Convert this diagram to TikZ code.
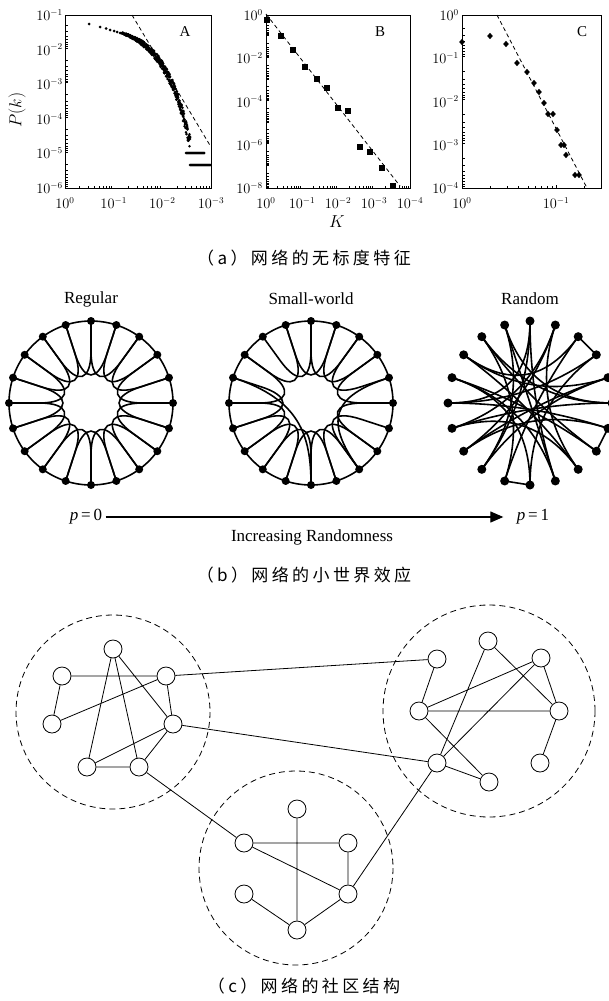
\documentclass[tikz,border=0pt]{standalone}
\usepackage{fontspec}
\setmainfont{Liberation Serif}
\newfontfamily\cjk[LetterSpace=20]{Noto Sans CJK SC}
\usetikzlibrary{arrows.meta}

\tikzset{
  frame/.style={line width=0.9pt},
  minortick/.style={line width=0.4pt},
  fitline/.style={line width=0.8pt, dash pattern=on 4pt off 3pt},
  ticklab/.style={font=\fontsize{13.5}{14}\selectfont, inner sep=1pt},
  axislab/.style={font=\fontsize{17}{18}\selectfont},
  panel/.style={font=\fontsize{15}{16}\selectfont},
  caption/.style={font=\cjk\fontsize{17}{20}\selectfont},
  title/.style={font=\fontsize{17}{20}\selectfont},
  dot/.style={circle, fill=black, inner sep=0pt, minimum size=8pt},
  ringline/.style={line width=1.6pt},
  cnode/.style={circle, draw, fill=white, line width=0.8pt, minimum size=18pt, inner sep=0pt},
  link/.style={line width=0.8pt},
  community/.style={line width=0.8pt, dash pattern=on 6pt off 4pt},
}

\begin{document}
\begin{tikzpicture}[x=1pt, y=-1pt]
\useasboundingbox (0,0) rectangle (608,1001);

% ---------- (a) degree distributions ----------
% panel A
\draw[frame] (65,15) rectangle (211,188);
\foreach \d in {0,1,2} \foreach \m in {2,...,9}
  \draw[minortick] ({65+48.67*(\d+log10(\m))},188) -- ++(0,-2.5);
\foreach \d in {0,...,4} \foreach \m in {2,...,9}
  \draw[minortick] (65,{15+34.6*(\d+log10(\m))}) -- ++(2.5,0);
\foreach \k in {1,...,6}
  \node[ticklab, anchor=east] (ay\k) at (64,{15+34.6*(\k-1)}) {$10^{-\k}$};
\foreach \k in {0,...,3}
  \node[ticklab] (ax\k) at ({65+48.67*\k},203) {$10^{\ifnum\k=0 0\else-\k\fi}$};
\node[axislab, rotate=90] (pk) at (17,110) {$P(k)$};
\node[panel] (labA) at (185,32) {$\mathrm{A}$};
\draw[fitline] (132,15) -- (211,147);
\foreach \x/\y in {89/24, 100/27, 106/28.5, 110/30, 114/31, 117/32, 120/33}
  \fill (\x,\y) circle (1.5);
\pgfmathsetseed{11}
\foreach \x in {122,122.5,...,190}{
  \pgfmathsetmacro\yc{24+2.56*exp(0.038*(\x-89))}
  \pgfmathsetmacro\sp{0.6+0.09*(\x-122)}
  \foreach \r in {1,2,3}{
    \pgfmathsetmacro\yy{\yc+\sp*rand}
    \fill (\x,\yy) circle (1.4);
  }
}
\foreach \x in {186,187,...,204} \fill (\x,153) circle (1.5);
\foreach \x in {190,191,...,210} \fill (\x,165) circle (1.5);

% panel B
\draw[frame] (266,15) rectangle (410,188);
\foreach \d in {0,...,3} \foreach \m in {2,...,9}
  \draw[minortick] ({266+36*(\d+log10(\m))},188) -- ++(0,-2.5);
\foreach \d in {0,...,7} \foreach \m in {2,...,9}
  \draw[minortick] (266,{15+21.6*(\d+log10(\m))}) -- ++(2.5,0);
\foreach \k [evaluate=\k as \e using int(2*\k)] in {0,...,4}
  \node[ticklab, anchor=east] (by\k) at (264,{15+43.25*\k}) {$10^{\ifnum\k=0 0\else-\e\fi}$};
\foreach \k in {0,...,4}
  \node[ticklab] (bx\k) at ({266+36*\k},203) {$10^{\ifnum\k=0 0\else-\k\fi}$};
\node[axislab] (kB) at (337,222) {$K$};
\node[panel] (labB) at (380,32) {$\mathrm{B}$};
\draw[fitline] (266,14) -- (400,186);
\foreach \x/\y in {267/20, 281/36, 293/50, 305/67, 317/79, 327/88, 338/108,
                   348/111, 360/147, 370/152, 382/168, 393/186}
  \fill (\x-3,\y-3) rectangle (\x+3,\y+3);

% panel C
\draw[frame] (462,15) rectangle (601,188);
\foreach \m in {2,...,9}
  \draw[minortick] ({462+94*log10(\m)},188) -- ++(0,-2.5);
\draw[minortick] (556,188) -- ++(0,-3.5) ({556+94*log10(2)},188) -- ++(0,-2.5);
\foreach \d in {0,...,3} \foreach \m in {2,...,9}
  \draw[minortick] (462,{15+43.25*(\d+log10(\m))}) -- ++(2.5,0);
\foreach \k in {0,...,4}
  \node[ticklab, anchor=east] (cy\k) at (460,{15+43.25*\k}) {$10^{\ifnum\k=0 0\else-\k\fi}$};
\node[ticklab] (cx0) at (462,203) {$10^{0}$};
\node[ticklab] (cx1) at (556,203) {$10^{-1}$};
\node[panel] (labC) at (582,32) {$\mathrm{C}$};
\draw[fitline] (497,15) -- (587,188);
\foreach \x/\y in {462/42, 490/36, 506/44, 517/63, 527/72, 534/83, 539/92, 544/103,
                   548/114, 553/114, 557/130, 561/145, 564/145, 566/155, 575/175, 579/175}
  \fill (\x,\y-3.2) -- (\x+2.8,\y) -- (\x,\y+3.2) -- (\x-2.8,\y) -- cycle;

\node[caption] (capA) at (304,258) {（a）网络的无标度特征};

% ---------- (b) small-world ----------
\node[title] (tReg) at (91,299) {Regular};
\node[title] (tSw) at (311,299) {Small-world};
\node[title] (tRnd) at (530,299) {Random};

% regular ring
\begin{scope}[shift={(91,403)}]
  \draw[ringline] (0,0) circle (82);
  \foreach \i in {0,...,19}
    \node[dot] (reg\i) at ({18*\i-90}:82) {};
  \foreach \i [evaluate=\i as \j using {int(mod(\i+2,20))}] in {0,...,19}
    \draw[ringline] (reg\i.center) -- ({18*\i-90}:52)
      .. controls ({18*\i-90}:22) and ({18*\j-90}:22) .. ({18*\j-90}:52) -- (reg\j.center);
\end{scope}

% small-world ring
\begin{scope}[shift={(311,403)}]
  \draw[ringline] (0,0) circle (82);
  \foreach \i in {0,...,19}
    \node[dot] (sw\i) at ({18*\i-90}:82) {};
  \foreach \i [evaluate=\i as \j using {int(mod(\i+2,20))}] in {0,1,2,3,5,6,7,8,9,10,11,12,13,14,15,17,18,19}
    \draw[ringline] (sw\i.center) -- ({18*\i-90}:52)
      .. controls ({18*\i-90}:22) and ({18*\j-90}:22) .. ({18*\j-90}:52) -- (sw\j.center);
  \draw[ringline] (sw16.center) .. controls +({18*16+90}:70) and +({18*10+90}:50) .. (sw10.center);
  \draw[ringline] (sw4.center) .. controls +({18*4+90}:60) and +({18*8+90}:60) .. (sw8.center);
\end{scope}

% random graph
\begin{scope}[shift={(530,403)}]
  \foreach \i in {0,...,19}
    \node[dot, minimum size=9pt] (rnd\i) at ({18*\i-90}:82) {};
  \foreach \i/\j in {0/9, 0/12, 1/8, 1/14, 2/11, 3/15, 4/13, 4/17, 5/14, 5/18, 6/13,
                     7/16, 8/17, 9/19, 10/3, 11/18, 12/19, 13/1, 15/6, 16/10, 17/2,
                     18/7, 19/5, 14/8, 15/0, 12/4, 16/9}
    \draw[ringline] (rnd\i.center) .. controls +({18*\i+90}:55) and +({18*\j+90}:55) .. (rnd\j.center);
  \draw[ringline] (rnd2.center) -- (rnd3.center);
  \draw[ringline] (rnd6.center) -- (rnd7.center);
  \draw[ringline] (rnd10.center) -- (rnd11.center);
\end{scope}

\node[title] (p0) at (86,517) {\textit{p}\,=\,0};
\node[title] (p1) at (533,517) {\textit{p}\,=\,1};
\draw[line width=1.2pt, -{Triangle[length=13pt,width=11pt]}, shorten >=10pt] (p0) -- (p1);
\node[title] (incr) at (312,537) {Increasing Randomness};
\node[caption] (capB) at (304,575) {（b）网络的小世界效应};

% ---------- (c) communities ----------
\draw[community] (113,712) circle (97);
\draw[community] (489,711) circle (106);
\draw[community] (296,868) circle (97);

\node[cnode] (l1) at (113,649) {};
\node[cnode] (l2) at (62,676) {};
\node[cnode] (l3) at (166,676) {};
\node[cnode] (l4) at (52,724) {};
\node[cnode] (l5) at (173,724) {};
\node[cnode] (l6) at (87,767) {};
\node[cnode] (l7) at (139,767) {};

\node[cnode] (r1) at (437,659) {};
\node[cnode] (r2) at (488,641) {};
\node[cnode] (r3) at (541,658) {};
\node[cnode] (r4) at (419,711) {};
\node[cnode] (r5) at (559,711) {};
\node[cnode] (r6) at (437,763) {};
\node[cnode] (r7) at (540,763) {};
\node[cnode] (r8) at (489,782) {};

\node[cnode] (b1) at (297,809) {};
\node[cnode] (b2) at (244,843) {};
\node[cnode] (b3) at (348,843) {};
\node[cnode] (b4) at (244,894) {};
\node[cnode] (b5) at (348,894) {};
\node[cnode] (b6) at (297,930) {};

\draw[link] (l2) -- (l3) (l2) -- (l4) (l4) -- (l3) (l1) -- (l6) (l1) -- (l7)
            (l1) -- (l5) (l3) -- (l5) (l5) -- (l6) (l5) -- (l7) (l6) -- (l7);
\draw[link] (r1) -- (r4) (r4) -- (r3) (r4) -- (r5) (r4) -- (r8) (r2) -- (r6)
            (r2) -- (r5) (r3) -- (r6) (r3) -- (r5) (r5) -- (r7) (r6) -- (r8);
\draw[link] (b1) -- (b6) (b2) -- (b3) (b2) -- (b5) (b3) -- (b5) (b4) -- (b6) (b6) -- (b5);
% links between communities
\draw[link] (l3) -- (r1) (l5) -- (r6) (l7) -- (b2) (r6) -- (b5);

\node[caption] (capC) at (304,986) {（c）网络的社区结构};
\end{tikzpicture}
\end{document}
